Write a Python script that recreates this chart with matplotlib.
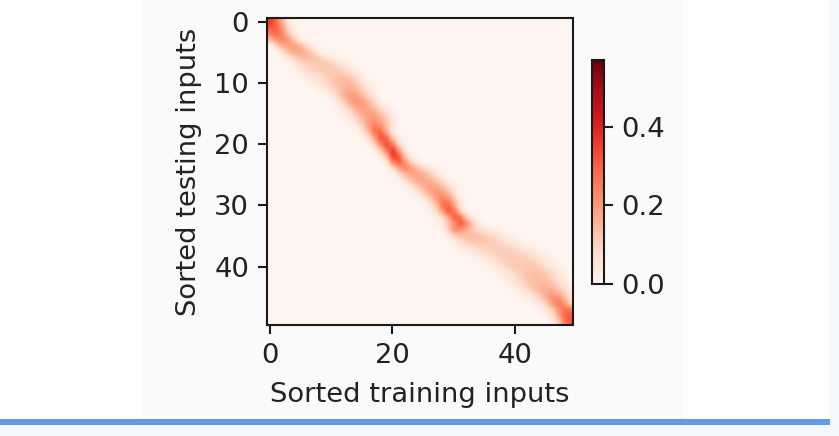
import numpy as np
import matplotlib
matplotlib.use("Agg")
import matplotlib.pyplot as plt
from matplotlib.patches import Rectangle

W, H = 839, 436
x_label = "Sorted training inputs"
y_label = "Sorted testing inputs"
axis_ticks = [0, 20, 40]
y_ticks = [0, 10, 20, 30, 40]
cbar_ticks = [0.0, 0.2, 0.4]
vmax = 0.57

# attention weights: row -> (first column, weights)
rows = [
 (0,[.36,.29,.15,.05]),
 (0,[.32,.31,.20,.08,.02]),
 (0,[.25,.30,.24,.11,.04]),
 (0,[.14,.22,.25,.20,.11,.04]),
 (1,[.10,.17,.20,.20,.15,.08,.03]),
 (2,[.08,.14,.18,.19,.15,.09,.04]),
 (3,[.06,.10,.13,.14,.14,.11,.08,.05,.02]),
 (4,[.05,.08,.10,.11,.12,.12,.11,.08,.05,.03]),
 (5,[.05,.08,.10,.11,.12,.12,.11,.09,.06,.03]),
 (6,[.04,.06,.08,.10,.12,.13,.13,.11,.08,.04]),
 (7,[.04,.06,.08,.11,.13,.15,.15,.11,.07,.03]),
 (8,[.03,.06,.09,.12,.15,.16,.15,.10,.05,.02]),
 (10,[.05,.10,.16,.20,.19,.14,.08,.04]),
 (11,[.05,.11,.18,.22,.20,.14,.08,.03]),
 (11,[.03,.07,.13,.18,.20,.18,.13,.07,.03]),
 (12,[.03,.07,.13,.17,.19,.18,.13,.08,.03]),
 (13,[.03,.08,.14,.19,.21,.17,.11,.05]),
 (14,[.04,.10,.19,.25,.22,.13,.05]),
 (15,[.05,.15,.28,.30,.16,.05]),
 (16,[.06,.18,.34,.29,.11,.03]),
 (16,[.02,.10,.24,.36,.24,.08,.02]),
 (17,[.03,.11,.28,.38,.19,.05]),
 (18,[.04,.14,.38,.32,.11,.03]),
 (19,[.05,.24,.32,.22,.10,.04]),
 (20,[.06,.18,.24,.21,.15,.09,.05,.02]),
 (21,[.07,.14,.18,.18,.17,.12,.07,.03]),
 (22,[.07,.13,.17,.18,.17,.13,.08,.03]),
 (23,[.05,.11,.16,.19,.18,.15,.09,.04]),
 (23,[.02,.05,.11,.17,.21,.20,.15,.07]),
 (25,[.04,.10,.18,.25,.23,.13,.04]),
 (26,[.04,.12,.26,.30,.19,.05]),
 (26,[.02,.07,.18,.32,.28,.10,.02]),
 (27,[.02,.07,.16,.32,.30,.11,.03]),
 (27,[.02,.04,.12,.20,.33,.24,.12,.04]),
 (29,[.10,.23,.21,.16,.12,.09,.06,.03,.02]),
 (29,[.03,.09,.13,.14,.14,.13,.11,.09,.07,.04,.02]),
 (30,[.03,.07,.10,.12,.12,.12,.11,.10,.08,.06,.04,.02]),
 (31,[.03,.05,.07,.09,.10,.10,.11,.10,.10,.08,.06,.04,.03]),
 (33,[.03,.05,.07,.09,.10,.11,.11,.11,.10,.08,.06,.04,.02]),
 (35,[.03,.05,.08,.10,.11,.11,.11,.11,.10,.07,.05,.03]),
 (36,[.03,.05,.07,.10,.12,.12,.12,.12,.10,.07,.04,.02]),
 (37,[.02,.04,.06,.09,.11,.13,.13,.13,.11,.08,.05,.02]),
 (38,[.02,.04,.07,.10,.13,.14,.14,.13,.10,.06,.03]),
 (39,[.02,.05,.08,.11,.14,.15,.15,.13,.09,.05,.02]),
 (41,[.04,.07,.11,.15,.17,.17,.14,.09,.03]),
 (42,[.03,.06,.10,.17,.22,.21,.14,.06]),
 (43,[.03,.06,.11,.21,.27,.21,.09]),
 (44,[.02,.05,.10,.21,.29,.26]),
 (45,[.03,.07,.18,.29,.32]),
 (46,[.03,.10,.25,.33]),
]

weights = np.zeros((50, 50))
for r, (start, vals) in enumerate(rows):
    weights[r, start:start + len(vals)] = vals

fig = plt.figure(figsize=(W / 100, H / 100), dpi=100, facecolor="white")

def box(x0, y0, x1, y1, color):
    fig.add_artist(Rectangle((x0 / W, 1 - y1 / H), (x1 - x0) / W, (y1 - y0) / H,
                             transform=fig.transFigure, facecolor=color,
                             edgecolor="none", zorder=-5))

box(142, 0, 683, 419, "#fafafa")
box(0, 425, 839, 436, "#f3f8fc")
box(830, 0, 839, 436, "#f3f8fc")
box(0, 419, 830, 425, "#6699e6")

def axes_px(x0, y0, x1, y1):
    return fig.add_axes([x0 / W, 1 - y1 / H, (x1 - x0) / W, (y1 - y0) / H])

FS = 19.7
ax = axes_px(266.5, 18.5, 573, 325)
im = ax.imshow(weights, cmap="Reds", vmin=0, vmax=vmax, aspect="auto", interpolation="gaussian")
ax.set_xticks(axis_ticks)
ax.set_yticks(y_ticks)
ax.tick_params(axis="x", labelsize=FS, length=6.5, width=1.5, pad=6.5, color="#1a1a1a", labelcolor="#222222")
ax.tick_params(axis="y", labelsize=FS, length=6.5, width=1.5, pad=6, color="#1a1a1a", labelcolor="#222222")
ax.set_xlabel(x_label, fontsize=FS, color="#222222", labelpad=9.5)
ax.set_ylabel(y_label, fontsize=FS, color="#222222", labelpad=8.5)
for s in ax.spines.values():
    s.set_linewidth(1.5)
    s.set_color("#1a1a1a")

cax = axes_px(592, 60, 604, 284)
cb = fig.colorbar(im, cax=cax, ticks=cbar_ticks)
cb.ax.tick_params(labelsize=FS, length=6.5, width=1.5, pad=6, color="#1a1a1a", labelcolor="#222222")
cb.ax.set_yticklabels([f"{t:.1f}" for t in cbar_ticks])
cb.outline.set_linewidth(1.5)
cb.outline.set_edgecolor("#1a1a1a")

fig.savefig("out.png", dpi=100)
